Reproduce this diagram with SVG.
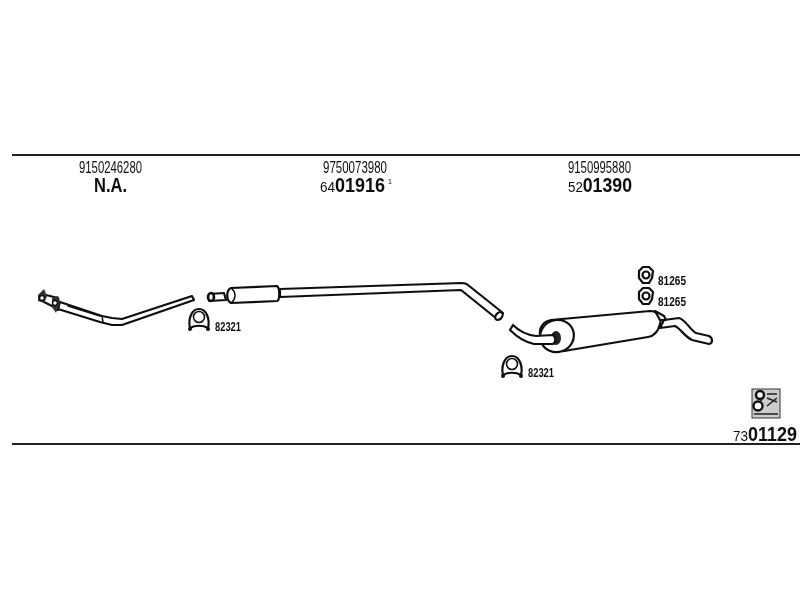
<svg xmlns="http://www.w3.org/2000/svg" width="800" height="600" viewBox="0 0 800 600">
<style>
text{font-family:"Liberation Sans",Arial,sans-serif;fill:#111}
.num{font-size:16px}
.big{font-size:20px;font-weight:bold}
.sm{font-size:15px;font-weight:normal}
.lab{font-size:13px;font-weight:bold}
.o{fill:#fff;stroke:#111;stroke-width:2.2;stroke-linejoin:round;stroke-linecap:round}
.t{fill:none;stroke:#111;stroke-width:1.5;stroke-linecap:round}
.rule{stroke:#222;stroke-width:2}
</style>
<defs>
<filter id="soft" x="-2%" y="-2%" width="104%" height="104%"><feGaussianBlur stdDeviation="0.45"/></filter>
<g id="clamp">
<path class="o" d="M-9 8C-11 0-8-11 0-11C8-11 11 0 9 8C4 5-4 5-9 8Z"/>
<circle cx="0" cy="-3" r="5.5" fill="#fff" stroke="#111" stroke-width="1.6"/>
<circle cx="-9" cy="9" r="2" fill="#111"/>
<circle cx="9" cy="9" r="2" fill="#111"/>
</g>
<g id="nut">
<path class="o" d="M-3-8L3-8L7-4L6 3L3 8L-3 8L-7 3L-7-4Z"/>
<circle cx="0" cy="0" r="3.5" fill="#fff" stroke="#111" stroke-width="2.2"/>
</g>
</defs>
<g filter="url(#soft)">
<g id="rules">
<line class="rule" x1="12" y1="155" x2="800" y2="155"/>
<line class="rule" x1="12" y1="444" x2="800" y2="444"/>
</g>
<g id="col1">
<text class="num" x="79" y="173" textLength="63" lengthAdjust="spacingAndGlyphs">9150246280</text>
<text class="big" x="94" y="192" textLength="33" lengthAdjust="spacingAndGlyphs">N.A.</text>
</g>
<g id="col2">
<text class="num" x="323" y="173" textLength="64" lengthAdjust="spacingAndGlyphs">9750073980</text>
<text class="big" x="320" y="192" textLength="65" lengthAdjust="spacingAndGlyphs"><tspan class="sm">64</tspan>01916</text>
<text x="388" y="184" font-size="7">1</text>
</g>
<g id="col3">
<text class="num" x="568" y="173" textLength="63" lengthAdjust="spacingAndGlyphs">9150995880</text>
<text class="big" x="568" y="192" textLength="64" lengthAdjust="spacingAndGlyphs"><tspan class="sm">52</tspan>01390</text>
</g>
<g id="front-pipe">
<path class="o" d="M60 302L102 316L112 318L122 319L192 296L194 300L122 325L112 325L100 322L58 309Z"/>
<path class="t" d="M68 306L100 316"/>
<path class="t" d="M102 316L103 322"/>
<path class="o" d="M42 294L50 296L58 298L59 303L58 310L52 306L44 302Z"/>
<path d="M38 295L44 289L47 296L44 303L38 301Z" fill="#333"/>
<path d="M52 298L58 296L60 303L56 313L52 307Z" fill="#333"/>
<circle cx="42" cy="298" r="2.5" fill="#fff" stroke="#111" stroke-width="1.5"/>
<circle cx="55" cy="303" r="2.5" fill="#fff" stroke="#111" stroke-width="1.5"/>
</g>
<g id="clamp-1">
<use href="#clamp" x="199" y="320"/>
<text class="lab" x="215" y="331" textLength="26" lengthAdjust="spacingAndGlyphs">82321</text>
</g>
<g id="middle-pipe">
<path class="o" d="M280 289L462 283C464 283 466 283 468 285L503 313L497 319L461 290L280 297Z"/>
<path class="o" d="M209 294L224 293L226 300L209 301Z"/>
<ellipse cx="211" cy="297" rx="3" ry="4" fill="#fff" stroke="#111" stroke-width="2.6"/>
<path class="o" d="M231 288L277 286C280 288 280 300 277 301L231 303C226 300 226 290 231 288Z"/>
<path class="t" d="M232 289C236 292 236 299 232 302"/>
<ellipse cx="499" cy="316" rx="4.5" ry="3" transform="rotate(-50 499 316)" fill="#fff" stroke="#111" stroke-width="2.2"/>
</g>
<g id="rear-muffler">
<path class="o" d="M664 320L679 318C686 320 690 330 696 333L709 336C713 338 713 343 709 344L692 340C684 336 680 328 675 326L660 328Z"/>
<path class="o" d="M551 320L650 311C658 311 662 318 660 324C658 332 654 336 648 337L570 350C556 354 542 345 540 335C539 327 544 321 551 320Z"/>
<ellipse cx="557" cy="336" rx="17" ry="16" transform="rotate(-20 557 336)" fill="#fff" stroke="#111" stroke-width="2.2"/>
<ellipse cx="556" cy="338" rx="5" ry="7" fill="#222"/>
<path class="o" d="M510 330L513 325C520 332 527 335 536 336L553 335C556 337 556 342 553 344L534 344C524 342 516 336 510 330Z"/>
<path class="o" d="M655 311L664 316L666 320L660 320Z"/>
</g>
<g id="clamp-2">
<use href="#clamp" x="512" y="367"/>
<text class="lab" x="528" y="377" textLength="26" lengthAdjust="spacingAndGlyphs">82321</text>
</g>
<g id="nut-1">
<use href="#nut" x="646" y="275"/>
<text class="lab" x="658" y="285" textLength="28" lengthAdjust="spacingAndGlyphs">81265</text>
</g>
<g id="nut-2">
<use href="#nut" x="646" y="296"/>
<text class="lab" x="658" y="306" textLength="28" lengthAdjust="spacingAndGlyphs">81265</text>
</g>
<g id="manual">
<rect x="752" y="389" width="28" height="29" fill="#ccc" stroke="#333" stroke-width="1"/>
<circle cx="760" cy="395" r="4" fill="#fff" stroke="#111" stroke-width="2.4"/>
<circle cx="758" cy="406" r="4.5" fill="#fff" stroke="#111" stroke-width="2.4"/>
<path d="M762 399L760 402M767 394L777 394M767 398L777 402M767 406L777 398M754 414L778 414" stroke="#222" stroke-width="1.6" fill="none"/>
<text class="big" x="733" y="441" textLength="64" lengthAdjust="spacingAndGlyphs"><tspan class="sm">73</tspan>01129</text>
</g>
</g>
</svg>
